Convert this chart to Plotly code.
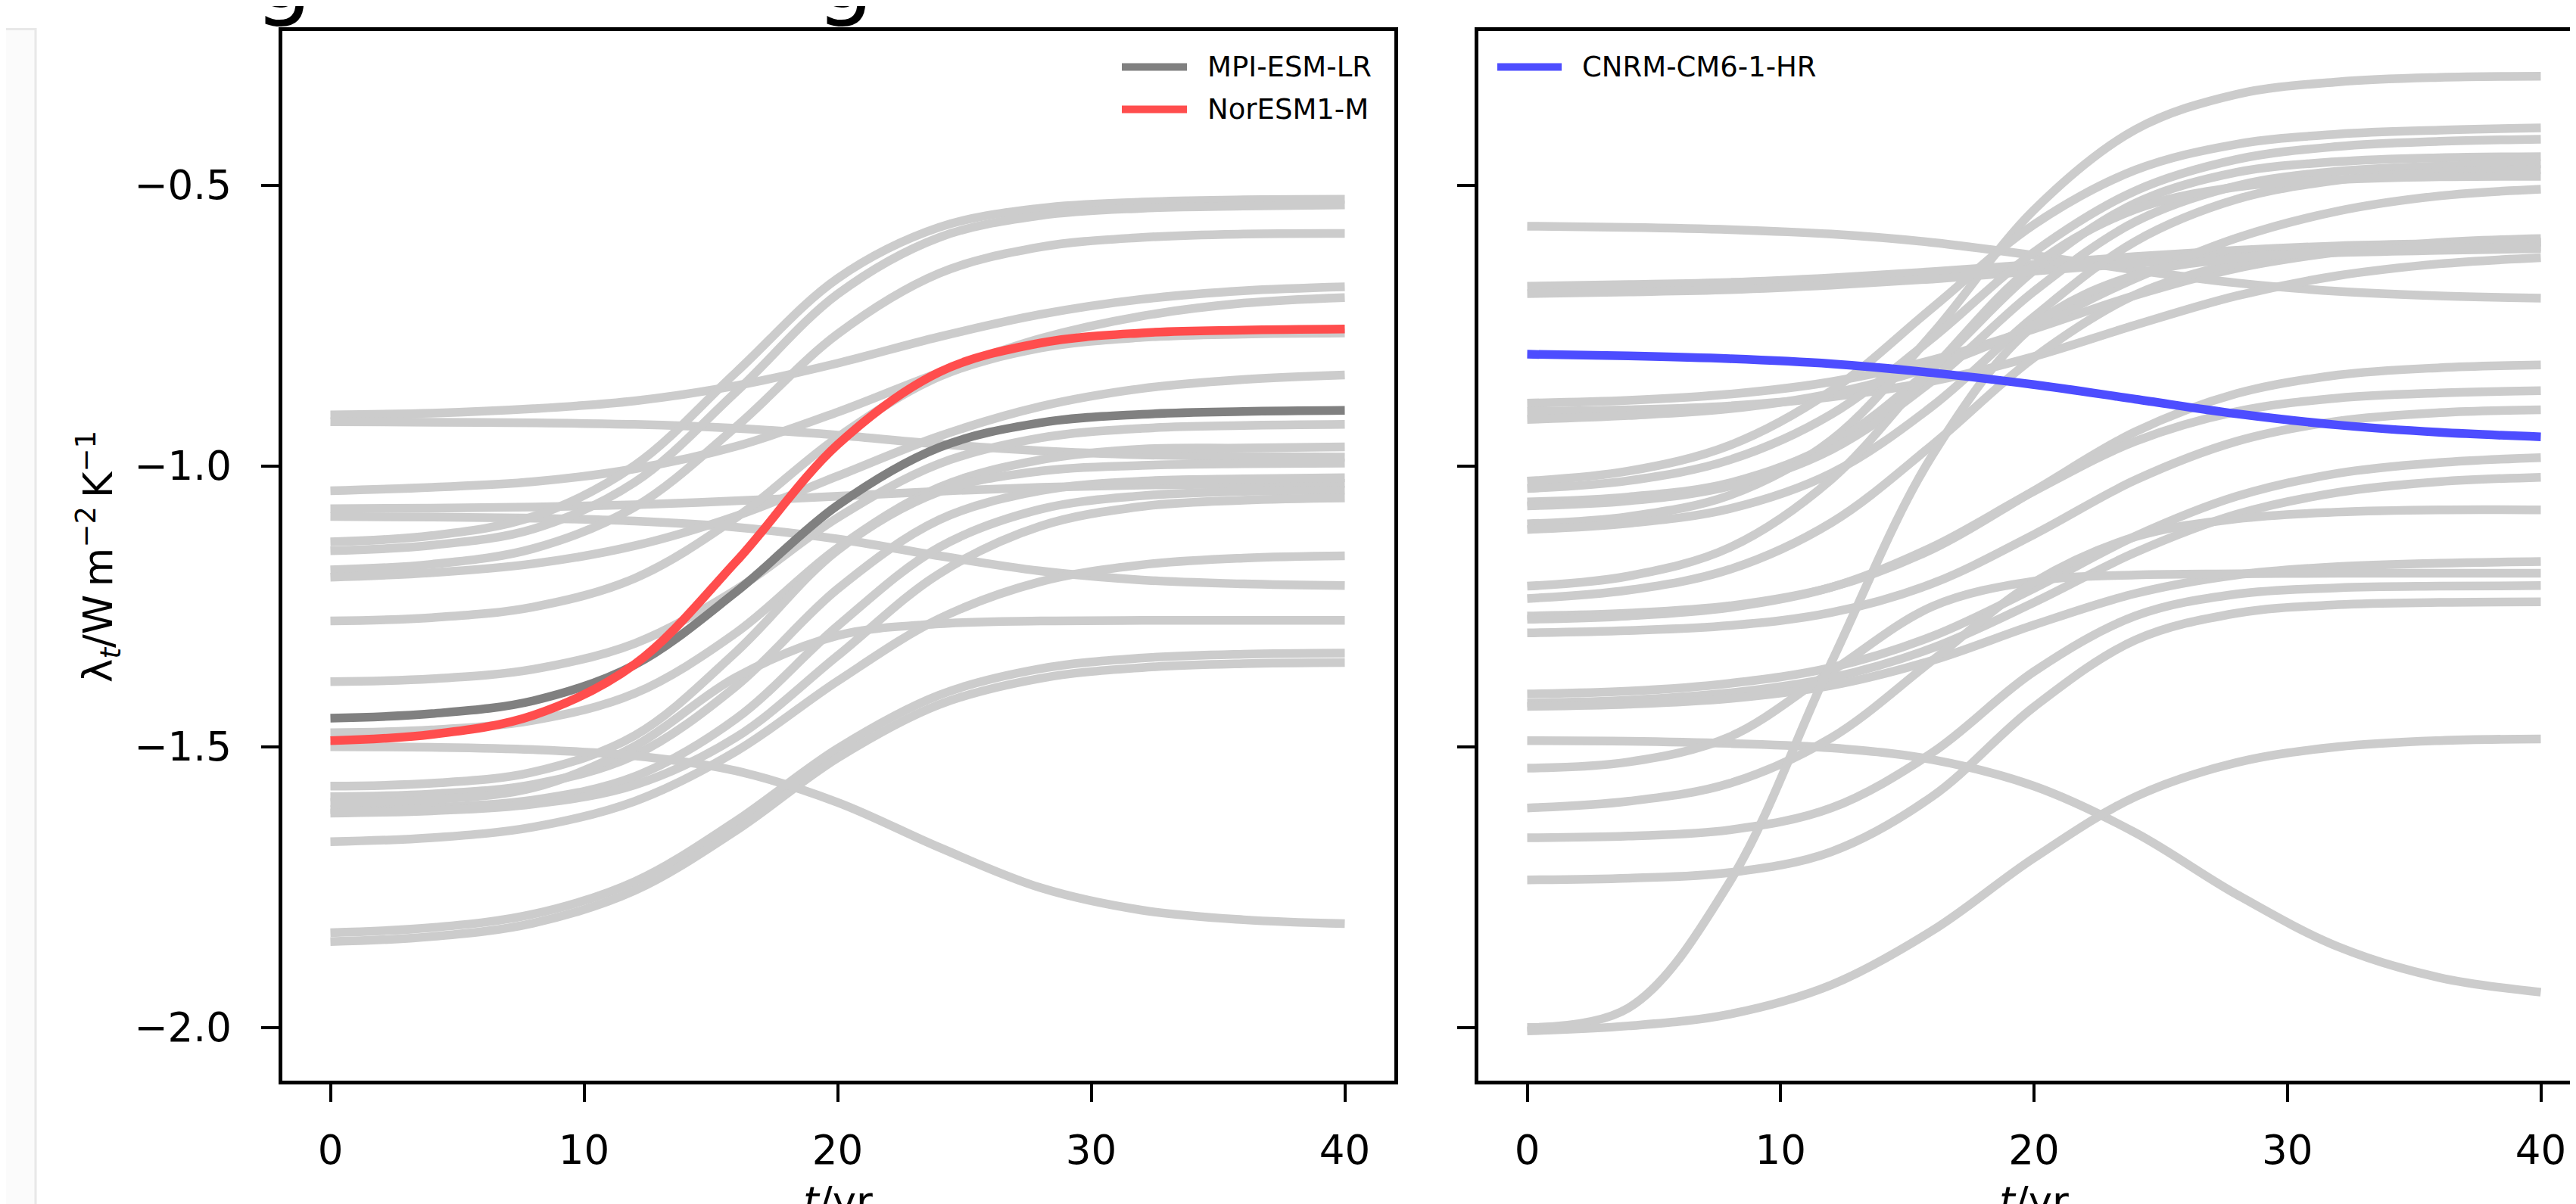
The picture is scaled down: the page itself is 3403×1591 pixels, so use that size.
import plotly.graph_objects as go

# ---------------- data ----------------
t_years = [0, 4, 8, 12, 16, 20, 24, 28, 32, 36, 40]

x_tick_vals = [0, 10, 20, 30, 40]
x_tick_text = ["0", "10", "20", "30", "40"]
y_tick_vals = [-2.0, -1.5, -1.0, -0.5]
y_tick_text = ["\u22122.0", "\u22121.5", "\u22121.0", "\u22120.5"]

# left panel, grey ensemble
left_gray_01 = [-0.909, -0.906, -0.898, -0.884, -0.857, -0.817, -0.770, -0.730, -0.703, -0.688, -0.681]
left_gray_02 = [-0.921, -0.922, -0.923, -0.926, -0.933, -0.945, -0.961, -0.973, -0.980, -0.983, -0.984]
left_gray_03 = [-1.044, -1.038, -1.028, -1.005, -0.965, -0.904, -0.834, -0.773, -0.733, -0.710, -0.700]
left_gray_04 = [-1.076, -1.075, -1.073, -1.069, -1.062, -1.054, -1.045, -1.038, -1.034, -1.032, -1.031]
left_gray_05 = [-1.090, -1.091, -1.093, -1.098, -1.109, -1.130, -1.160, -1.187, -1.203, -1.210, -1.213]
left_gray_06 = [-1.135, -1.124, -1.090, -0.999, -0.833, -0.666, -0.575, -0.541, -0.530, -0.526, -0.525]
left_gray_07 = [-1.151, -1.141, -1.112, -1.029, -0.868, -0.694, -0.593, -0.554, -0.541, -0.537, -0.535]
left_gray_08 = [-1.185, -1.175, -1.147, -1.073, -0.930, -0.765, -0.657, -0.610, -0.593, -0.587, -0.586]
left_gray_09 = [-1.198, -1.190, -1.174, -1.142, -1.089, -1.018, -0.947, -0.894, -0.862, -0.846, -0.838]
left_gray_10 = [-1.276, -1.270, -1.251, -1.200, -1.092, -0.949, -0.841, -0.790, -0.771, -0.765, -0.763]
left_gray_11 = [-1.384, -1.379, -1.362, -1.316, -1.220, -1.092, -0.996, -0.950, -0.933, -0.928, -0.926]
left_gray_12 = [-1.475, -1.470, -1.453, -1.405, -1.297, -1.146, -1.038, -0.989, -0.970, -0.968, -0.966]
left_gray_13 = [-1.570, -1.565, -1.545, -1.480, -1.331, -1.150, -1.046, -1.009, -0.999, -0.996, -0.995]
left_gray_14 = [-1.589, -1.584, -1.567, -1.515, -1.392, -1.219, -1.096, -1.044, -1.027, -1.023, -1.021]
left_gray_15 = [-1.612, -1.608, -1.595, -1.553, -1.450, -1.285, -1.145, -1.077, -1.053, -1.045, -1.043]
left_gray_16 = [-1.618, -1.614, -1.602, -1.568, -1.483, -1.338, -1.192, -1.107, -1.072, -1.061, -1.057]
left_gray_17 = [-1.669, -1.662, -1.643, -1.597, -1.508, -1.383, -1.272, -1.206, -1.176, -1.164, -1.160]
left_gray_18 = [-1.599, -1.594, -1.573, -1.499, -1.376, -1.302, -1.281, -1.276, -1.275, -1.275, -1.275]
left_gray_19 = [-1.831, -1.822, -1.798, -1.740, -1.632, -1.503, -1.408, -1.361, -1.342, -1.335, -1.333]
left_gray_20 = [-1.847, -1.838, -1.814, -1.756, -1.649, -1.520, -1.425, -1.378, -1.359, -1.352, -1.350]
left_gray_21 = [-1.500, -1.501, -1.505, -1.516, -1.543, -1.599, -1.679, -1.751, -1.791, -1.808, -1.815]

mpi_esm_lr = [-1.449, -1.441, -1.418, -1.354, -1.224, -1.070, -0.967, -0.923, -0.908, -0.903, -0.901]
noresm1_m = [-1.489, -1.478, -1.444, -1.353, -1.170, -0.962, -0.833, -0.781, -0.763, -0.758, -0.756]

# right panel, grey ensemble
right_gray_01 = [-0.573, -0.575, -0.579, -0.587, -0.602, -0.625, -0.651, -0.674, -0.689, -0.697, -0.701]
right_gray_02 = [-0.680, -0.677, -0.673, -0.665, -0.654, -0.641, -0.627, -0.616, -0.608, -0.604, -0.601]
right_gray_03 = [-0.693, -0.690, -0.686, -0.678, -0.667, -0.653, -0.639, -0.628, -0.620, -0.616, -0.613]
right_gray_04 = [-0.888, -0.883, -0.872, -0.850, -0.811, -0.756, -0.696, -0.648, -0.619, -0.602, -0.595]
right_gray_05 = [-0.903, -0.900, -0.893, -0.877, -0.849, -0.805, -0.749, -0.697, -0.661, -0.640, -0.629]
right_gray_06 = [-0.917, -0.910, -0.898, -0.871, -0.823, -0.751, -0.666, -0.594, -0.546, -0.519, -0.507]
right_gray_07 = [-1.103, -1.090, -1.052, -0.954, -0.764, -0.544, -0.401, -0.338, -0.316, -0.308, -0.306]
right_gray_08 = [-1.027, -1.009, -0.963, -0.866, -0.718, -0.570, -0.473, -0.427, -0.409, -0.402, -0.398]
right_gray_09 = [-1.040, -1.026, -0.989, -0.908, -0.772, -0.619, -0.510, -0.454, -0.431, -0.422, -0.418]
right_gray_10 = [-1.064, -1.055, -1.030, -0.961, -0.824, -0.652, -0.532, -0.477, -0.458, -0.451, -0.449]
right_gray_11 = [-1.071, -1.062, -1.036, -0.971, -0.848, -0.689, -0.565, -0.501, -0.475, -0.466, -0.462]
right_gray_12 = [-1.113, -1.102, -1.076, -1.013, -0.893, -0.734, -0.600, -0.525, -0.491, -0.477, -0.472]
right_gray_13 = [-1.214, -1.196, -1.145, -1.024, -0.827, -0.643, -0.543, -0.503, -0.490, -0.485, -0.484]
right_gray_14 = [-1.236, -1.221, -1.184, -1.101, -0.962, -0.807, -0.695, -0.639, -0.615, -0.606, -0.602]
right_gray_15 = [-1.267, -1.262, -1.249, -1.216, -1.148, -1.044, -0.939, -0.871, -0.838, -0.825, -0.820]
right_gray_16 = [-1.273, -1.267, -1.252, -1.216, -1.144, -1.045, -0.956, -0.903, -0.879, -0.870, -0.866]
right_gray_17 = [-1.297, -1.293, -1.284, -1.261, -1.209, -1.122, -1.025, -0.956, -0.920, -0.905, -0.900]
right_gray_18 = [-1.406, -1.401, -1.387, -1.359, -1.303, -1.218, -1.125, -1.054, -1.013, -0.994, -0.985]
right_gray_19 = [-1.422, -1.417, -1.404, -1.377, -1.324, -1.243, -1.154, -1.086, -1.047, -1.028, -1.020]
right_gray_20 = [-1.428, -1.424, -1.414, -1.391, -1.346, -1.283, -1.227, -1.194, -1.179, -1.173, -1.170]
right_gray_21 = [-1.489, -1.490, -1.494, -1.502, -1.523, -1.570, -1.653, -1.763, -1.856, -1.911, -1.937]
right_gray_22 = [-1.538, -1.527, -1.482, -1.366, -1.250, -1.205, -1.194, -1.192, -1.191, -1.191, -1.191]
right_gray_23 = [-1.609, -1.597, -1.565, -1.484, -1.346, -1.207, -1.126, -1.094, -1.082, -1.078, -1.078]
right_gray_24 = [-1.662, -1.659, -1.648, -1.609, -1.510, -1.366, -1.267, -1.228, -1.217, -1.214, -1.213]
right_gray_25 = [-1.737, -1.734, -1.724, -1.687, -1.588, -1.429, -1.310, -1.262, -1.247, -1.243, -1.242]
right_gray_26 = [-2.000, -1.965, -1.740, -1.350, -0.980, -0.750, -0.660, -0.630, -0.618, -0.612, -0.610]
right_gray_27 = [-2.006, -1.997, -1.976, -1.924, -1.827, -1.698, -1.589, -1.528, -1.500, -1.489, -1.486]

cnrm_cm6_1_hr = [-0.801, -0.804, -0.809, -0.818, -0.834, -0.855, -0.881, -0.907, -0.927, -0.940, -0.948]

left_gray = [left_gray_01, left_gray_02, left_gray_03, left_gray_04, left_gray_05, left_gray_06,
             left_gray_07, left_gray_08, left_gray_09, left_gray_10, left_gray_11, left_gray_12,
             left_gray_13, left_gray_14, left_gray_15, left_gray_16, left_gray_17, left_gray_18,
             left_gray_19, left_gray_20, left_gray_21]
right_gray = [right_gray_01, right_gray_02, right_gray_03, right_gray_04, right_gray_05, right_gray_06,
              right_gray_07, right_gray_08, right_gray_09, right_gray_10, right_gray_11, right_gray_12,
              right_gray_13, right_gray_14, right_gray_15, right_gray_16, right_gray_17, right_gray_18,
              right_gray_19, right_gray_20, right_gray_21, right_gray_22, right_gray_23, right_gray_24,
              right_gray_25, right_gray_26, right_gray_27]

# ---------------- styling / layout ----------------
W, H = 3403, 1591
FONT = "DejaVu Sans"
GRAY = "#cccccc"
LW = 11.5
TOP_PX, BOT_PX = 32.5, 1420.5


def px_x(px):
    return px / W


def px_y(py):
    return (BOT_PX - py) / (BOT_PX - TOP_PX)


fig = go.Figure()

for ys in left_gray:
    fig.add_trace(go.Scatter(x=t_years, y=ys, mode="lines", xaxis="x", yaxis="y",
                             line=dict(color=GRAY, width=LW, shape="spline"),
                             showlegend=False, hoverinfo="skip"))
fig.add_trace(go.Scatter(x=t_years, y=mpi_esm_lr, mode="lines", name="MPI-ESM-LR", xaxis="x", yaxis="y",
                         line=dict(color="#808080", width=LW, shape="spline"), showlegend=False))
fig.add_trace(go.Scatter(x=t_years, y=noresm1_m, mode="lines", name="NorESM1-M", xaxis="x", yaxis="y",
                         line=dict(color="#ff4d4d", width=LW, shape="spline"), showlegend=False))

for ys in right_gray:
    fig.add_trace(go.Scatter(x=t_years, y=ys, mode="lines", xaxis="x2", yaxis="y2",
                             line=dict(color=GRAY, width=LW, shape="spline"),
                             showlegend=False, hoverinfo="skip"))
fig.add_trace(go.Scatter(x=t_years, y=cnrm_cm6_1_hr, mode="lines", name="CNRM-CM6-1-HR", xaxis="x2", yaxis="y2",
                         line=dict(color="#4d4dff", width=LW, shape="spline"), showlegend=False))

y_range = [-1.0 - (BOT_PX - 607.7) / 742.6, -1.0 + (607.7 - TOP_PX) / 742.6]

axis_common = dict(showline=True, linewidth=5, linecolor="black", ticks="outside", ticklen=23,
                   tickwidth=4, tickcolor="black", showgrid=False, zeroline=False,
                   tickfont=dict(family=FONT, size=53, color="black"))

fig.update_layout(
    width=W, height=H,
    margin=dict(l=0, r=0, t=TOP_PX, b=H - BOT_PX),
    paper_bgcolor="white", plot_bgcolor="white",
    font=dict(family=FONT, color="black"),
    xaxis=dict(domain=[px_x(364.5), px_x(1833.5)],
               range=[(364.5 - 428.5) / 33.5, (1833.5 - 428.5) / 33.5],
               tickvals=x_tick_vals, ticktext=x_tick_text, anchor="y", mirror=True,
               ticklabelstandoff=18, **axis_common),
    yaxis=dict(domain=[0, 1], range=y_range, tickvals=y_tick_vals, ticktext=y_tick_text,
               anchor="x", mirror=True, ticklabelstandoff=28, **axis_common),
    xaxis2=dict(domain=[px_x(1945.0), 1.0],
                range=[(1945.0 - 2009.5) / 33.475, (W - 2009.5) / 33.475],
                tickvals=x_tick_vals, ticktext=x_tick_text, anchor="y2", mirror=True,
                ticklabelstandoff=18, **axis_common),
    yaxis2=dict(domain=[0, 1], range=y_range, tickvals=y_tick_vals, ticktext=y_tick_text,
                anchor="x2", mirror=False, showticklabels=False, **axis_common),
)

shapes = []
annotations = []

# faint panel edge at far left (screenshot frame)
shapes.append(dict(type="rect", xref="paper", yref="paper", x0=px_x(-20), x1=px_x(39),
                   y0=px_y(H + 50), y1=px_y(30), line=dict(color="#e8e8e8", width=3),
                   fillcolor="#fbfbfb", layer="below"))

# legends (drawn manually, matplotlib-style long handles)
legend_items = [
    (1474, 1560, 80, "#808080", "MPI-ESM-LR", 1587),
    (1474, 1560, 136, "#ff4d4d", "NorESM1-M", 1587),
    (1970, 2055, 80, "#4d4dff", "CNRM-CM6-1-HR", 2082),
]
for x0, x1, yy, col, label, tx in legend_items:
    shapes.append(dict(type="line", xref="paper", yref="paper", x0=px_x(x0), x1=px_x(x1),
                       y0=px_y(yy), y1=px_y(yy), line=dict(color=col, width=10)))
    annotations.append(dict(xref="paper", yref="paper", x=px_x(tx - 2), y=px_y(yy), text=label,
                            showarrow=False, xanchor="left", yanchor="middle",
                            font=dict(family=FONT, size=37, color="black")))

# y-axis title
annotations.append(dict(xref="paper", yref="paper", x=px_x(122), y=px_y(728),
                        text="\u03bb<sub><i>t</i></sub>/W\u2009m<sup>\u22122</sup>\u2009K<sup>\u22121</sup>",
                        textangle=-90, showarrow=False, xanchor="center", yanchor="middle",
                        font=dict(family=FONT, size=53, color="black")))

# x-axis titles (partially cut by the bottom edge, as in the reference)
for cx in (1099, 2679):
    annotations.append(dict(xref="paper", yref="paper", x=px_x(cx), y=px_y(1548),
                            text="<i>t</i>/yr", showarrow=False, xanchor="center", yanchor="top",
                            font=dict(family=FONT, size=53, color="black")))

# descenders of the cut-off heading above the panels
for cx in (366, 1108):
    annotations.append(dict(xref="paper", yref="paper", x=px_x(cx), y=px_y(31),
                            text="g", showarrow=False, xanchor="center", yanchor="bottom",
                            font=dict(family=FONT, size=120, color="black")))

fig.update_layout(shapes=shapes, annotations=annotations)

fig.write_html("out.html")
